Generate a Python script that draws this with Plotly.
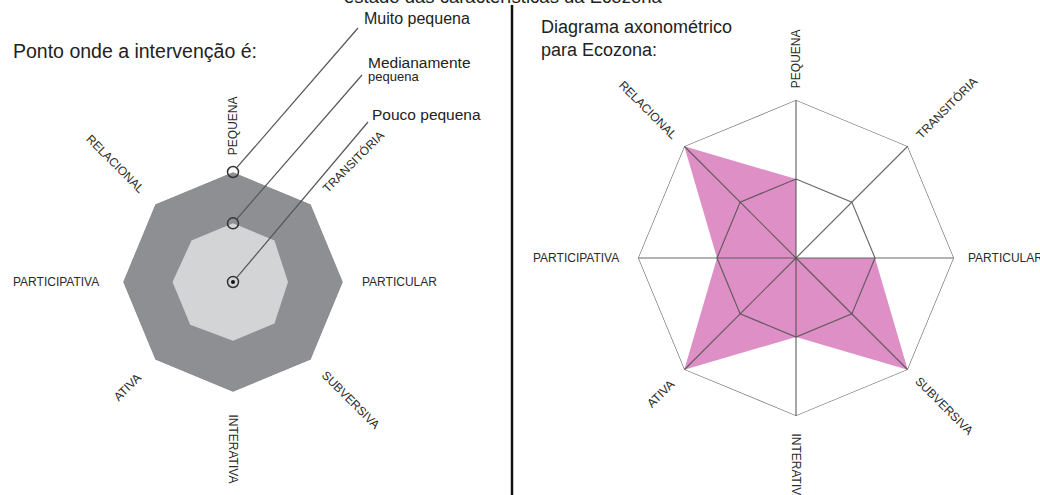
import math
import plotly.graph_objects as go

W, H = 1040, 495
FONT = "Liberation Sans, Arial, sans-serif"

categories = ["PEQUENA", "TRANSITÓRIA", "PARTICULAR", "SUBVERSIVA",
              "INTERATIVA", "ATIVA", "PARTICIPATIVA", "RELACIONAL"]

# left diagram: scale of the "pequena" quality
outer_level = [3, 3, 3, 3, 3, 3, 3, 3]
mid_level = [1.6, 1.6, 1.5, 1.6, 1.6, 1.65, 1.65, 1.6]
point_levels = [3, 1.6, 0]
point_names = ["Muito pequena", "Medianamente", "Pouco pequena"]

# right diagram: Ecozona
ecozona = [1, 0, 1, 2, 1, 2, 1, 2]
rings = [1, 2]

# geometry of the two polar areas (pixels)
L_CX, L_CY, L_R = 233, 282, 110
R_CX, R_CY, R_R = 796, 258, 158


def dom(cx, cy, r):
    return dict(x=[(cx - r) / W, (cx + r) / W],
                y=[(H - cy - r) / H, (H - cy + r) / H])


def paper(px, py):
    return px / W, 1 - py / H


fig = go.Figure()

fig.add_trace(go.Scatterpolar(
    r=outer_level, theta=categories, mode="none", fill="toself",
    fillcolor="#8e8f93", subplot="polar", hoverinfo="skip"))
fig.add_trace(go.Scatterpolar(
    r=mid_level, theta=categories, mode="none", fill="toself",
    fillcolor="#d3d4d6", subplot="polar", hoverinfo="skip"))

# plotly drops markers sitting exactly on r=0, so nudge them a hair off centre
marker_r = [max(v, 0.001) for v in point_levels]
fig.add_trace(go.Scatterpolar(
    r=marker_r, theta=[categories[0]] * 3, mode="markers",
    marker=dict(symbol="circle-open", size=11, color="#333",
                line=dict(width=1.5)),
    subplot="polar", hoverinfo="skip"))
fig.add_trace(go.Scatterpolar(
    r=marker_r[2:], theta=[categories[0]], mode="markers",
    marker=dict(symbol="circle", size=4, color="#111"),
    subplot="polar", hoverinfo="skip"))

# Ecozona polygon
fig.add_trace(go.Scatterpolar(
    r=ecozona, theta=categories, mode="none", fill="toself",
    fillcolor="#de8fc5", subplot="polar2", name="Ecozona"))

# grid drawn over the polygon
grid_col = "rgba(80,80,80,0.85)"
for level in rings:
    fig.add_trace(go.Scatterpolar(
        r=[level] * (len(categories) + 1), theta=categories + categories[:1],
        mode="lines", line=dict(color=grid_col, width=1.2),
        subplot="polar2", hoverinfo="skip"))
spoke_r, spoke_t = [], []
for c in categories:
    spoke_r += [0, rings[-1], None]
    spoke_t += [c, c, None]
fig.add_trace(go.Scatterpolar(
    r=spoke_r, theta=spoke_t, mode="lines", connectgaps=False,
    line=dict(color=grid_col, width=1.2), subplot="polar2",
    hoverinfo="skip"))

axis_off = dict(showgrid=False, showline=False, showticklabels=False, ticks="")

fig.update_layout(
    width=W, height=H,
    margin=dict(l=0, r=0, t=0, b=0),
    paper_bgcolor="white",
    showlegend=False,
    font=dict(family=FONT, color="#333"),
    polar=dict(
        domain=dom(L_CX, L_CY, L_R),
        gridshape="linear",
        bgcolor="rgba(0,0,0,0)",
        radialaxis=dict(range=[0, 3], **axis_off),
        angularaxis=dict(rotation=90, direction="clockwise", **axis_off),
    ),
    polar2=dict(
        domain=dom(R_CX, R_CY, R_R),
        gridshape="linear",
        bgcolor="rgba(0,0,0,0)",
        radialaxis=dict(range=[0, 2], **axis_off),
        angularaxis=dict(rotation=90, direction="clockwise", **axis_off),
    ),
)

annotations = []
shapes = []


def add_axis_labels(cx, cy, r, gap):
    n = len(categories)
    for i, name in enumerate(categories):
        theta = 90 - i * 360 / n
        t = math.radians(theta)
        length = len(name) * 7.1
        d = r + gap + length / 2
        px = cx + d * math.cos(t)
        py = cy - d * math.sin(t)
        if math.cos(t) < -1e-6:
            angle = 180 - theta
        else:
            angle = -theta
        angle = (angle + 180) % 360 - 180
        x, y = paper(px, py)
        annotations.append(dict(
            x=x, y=y, xref="paper", yref="paper", text=name, showarrow=False,
            textangle=angle, xanchor="center", yanchor="middle",
            font=dict(size=12, color="#2b2b2b")))


add_axis_labels(L_CX, L_CY, L_R, 21)
add_axis_labels(R_CX, R_CY, R_R, 16)

# leader lines from the three points to their labels
label_ends = [(358, 28), (362, 75), (368, 122)]
for lvl, (ex, ey) in zip(point_levels, label_ends):
    sx = L_CX
    sy = L_CY - lvl / 3 * L_R
    dx, dy = ex - sx, ey - sy
    n = math.hypot(dx, dy)
    sx, sy = sx + dx / n * 6, sy + dy / n * 6
    x0, y0 = paper(sx, sy)
    x1, y1 = paper(ex, ey)
    shapes.append(dict(type="line", xref="paper", yref="paper",
                       x0=x0, y0=y0, x1=x1, y1=y1,
                       line=dict(color="#555", width=1.2)))

text_items = [
    ("Muito pequena", 362, 18, 16),
    ("Medianamente", 366, 63, 15.5),
    ("pequena", 366, 76, 13),
    ("Pouco pequena", 370, 114, 15.5),
]
for txt, px, py, size in text_items:
    x, y = paper(px, py)
    annotations.append(dict(x=x, y=y, xref="paper", yref="paper", text=txt,
                            showarrow=False, xanchor="left", yanchor="middle",
                            font=dict(size=size, color="#222")))

# titles
for txt, px, py, size in [("Ponto onde a intervenção é:", 11, 51, 19.5),
                          ("Diagrama axonométrico<br>para Ecozona:", 539, 39, 18)]:
    x, y = paper(px, py)
    annotations.append(dict(x=x, y=y, xref="paper", yref="paper", text=txt,
                            showarrow=False, xanchor="left", yanchor="middle",
                            align="left", font=dict(size=size, color="#222")))

x, y = paper(503, -3)
annotations.append(dict(x=x, y=y, xref="paper", yref="paper",
                        text="estado das características da Ecozona",
                        showarrow=False, xanchor="center", yanchor="middle",
                        font=dict(size=18.5, color="#222")))

# divider between the two diagrams
x0, y0 = paper(512, 5)
x1, y1 = paper(512, H)
shapes.append(dict(type="line", xref="paper", yref="paper",
                   x0=x0, y0=y0, x1=x1, y1=y1,
                   line=dict(color="#111", width=2.5)))

fig.update_layout(annotations=annotations, shapes=shapes)

fig.write_html("out.html", config={"displayModeBar": False},
               post_script="document.body.style.margin='0';")
